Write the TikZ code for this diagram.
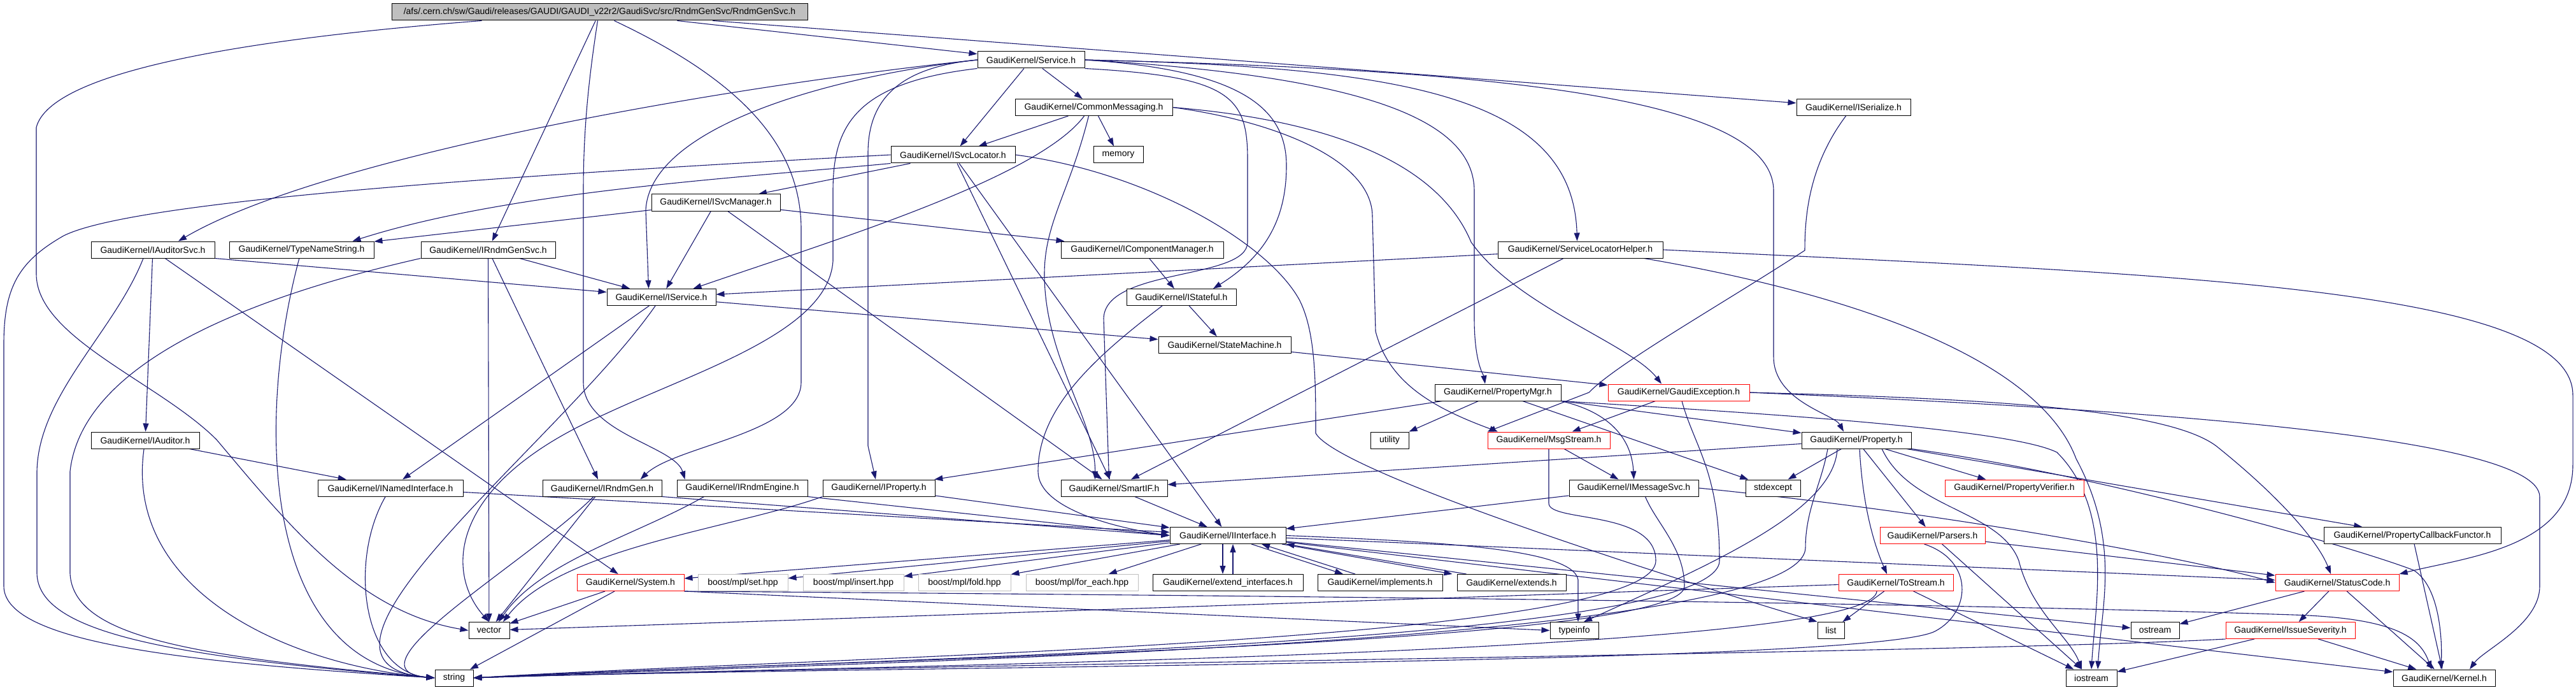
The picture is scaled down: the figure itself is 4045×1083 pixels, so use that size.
\documentclass[tikz,border=0pt]{standalone}
\usepackage{fontspec}
\setmainfont{Liberation Sans}
\usetikzlibrary{arrows.meta}

\definecolor{edgeblue}{HTML}{191970}
\definecolor{hdrgray}{HTML}{BFBFBF}
\pgfdeclarelayer{edges}
\pgfsetlayers{edges,main}

\begin{document}
\begin{tikzpicture}[
    x=1pt, y=1pt,                              % 1 unit = 1 px of the graph
    incl/.style={draw=black, fill=white, line width=1pt, minimum height=26pt,
      inner sep=0pt, font=\fontsize{14}{16}\selectfont},
    hdr/.style={incl, fill=hdrgray},
    trunc/.style={incl, draw=red},
    extl/.style={incl, draw=hdrgray},
    dep/.style={draw=edgeblue, line width=1.1pt, -{Triangle[length=13pt,width=9pt]}},
  ]
  \useasboundingbox (0,0) rectangle (4045,-1083);

  % ---------- header files (one rank per row) ----------
  \node[hdr, minimum width=653pt] (root) at (941.5,-19)
    {/afs/.cern.ch/sw/Gaudi/releases/GAUDI/GAUDI\_v22r2/GaudiSvc/src/RndmGenSvc/RndmGenSvc.h};
  \node[incl, minimum width=168pt] (svc) at (1619,-94) {GaudiKernel/Service.h};
  \node[incl, minimum width=247pt] (cmsg) at (1717.5,-168.5) {GaudiKernel/CommonMessaging.h};
  \node[incl, minimum width=179pt] (iser) at (2910.5,-168.5) {GaudiKernel/ISerialize.h};
  \node[incl, minimum width=195pt] (isvcloc) at (1496.5,-243) {GaudiKernel/ISvcLocator.h};
  \node[incl, minimum width=78pt] (memory) at (1756,-243) {memory};
  \node[incl, minimum width=202pt] (isvcmgr) at (1124,-318) {GaudiKernel/ISvcManager.h};
  \node[incl, minimum width=194pt] (iaudsvc) at (240,-392) {GaudiKernel/IAuditorSvc.h};
  \node[incl, minimum width=227pt] (tns) at (473.5,-392) {GaudiKernel/TypeNameString.h};
  \node[incl, minimum width=211pt] (irgsvc) at (766.5,-392) {GaudiKernel/IRndmGenSvc.h};
  \node[incl, minimum width=255pt] (icompmgr) at (1793.5,-392) {GaudiKernel/IComponentManager.h};
  \node[incl, minimum width=259pt] (slh) at (2481.5,-392) {GaudiKernel/ServiceLocatorHelper.h};
  \node[incl, minimum width=171pt] (iservice) at (1038.5,-466.5) {GaudiKernel/IService.h};
  \node[incl, minimum width=172pt] (istateful) at (1855,-466.5) {GaudiKernel/IStateful.h};
  \node[incl, minimum width=208pt] (statemach) at (1923,-541.5) {GaudiKernel/StateMachine.h};
  \node[incl, minimum width=198pt] (propmgr) at (2352,-616) {GaudiKernel/PropertyMgr.h};
  \node[trunc, minimum width=222pt] (gexc) at (2636,-616) {GaudiKernel/GaudiException.h};
  \node[incl, minimum width=170pt] (iauditor) at (228,-691) {GaudiKernel/IAuditor.h};
  \node[incl, minimum width=60pt] (utility) at (2182,-691) {utility};
  \node[trunc, minimum width=192pt] (msgstream) at (2432,-691) {GaudiKernel/MsgStream.h};
  \node[incl, minimum width=172pt] (property) at (2915,-691) {GaudiKernel/Property.h};
  \node[incl, minimum width=228pt] (inamed) at (613,-766) {GaudiKernel/INamedInterface.h};
  \node[incl, minimum width=187pt] (irndmgen) at (945.5,-766) {GaudiKernel/IRndmGen.h};
  \node[incl, minimum width=205pt] (irndmeng) at (1165.5,-766) {GaudiKernel/IRndmEngine.h};
  \node[incl, minimum width=176pt] (iproperty) at (1380,-766) {GaudiKernel/IProperty.h};
  \node[incl, minimum width=167pt] (smartif) at (1749.5,-766) {GaudiKernel/SmartIF.h};
  \node[incl, minimum width=203pt] (imsgsvc) at (2565.5,-766) {GaudiKernel/IMessageSvc.h};
  \node[incl, minimum width=86pt] (stdexcept) at (2784,-766) {stdexcept};
  \node[trunc, minimum width=218pt] (propverif) at (3163,-766) {GaudiKernel/PropertyVerifier.h};
  \node[incl, minimum width=182pt] (iinterface) at (1928,-840.5) {GaudiKernel/IInterface.h};
  \node[trunc, minimum width=165pt] (parsers) at (3034.5,-840.5) {GaudiKernel/Parsers.h};
  \node[incl, minimum width=278pt] (pcbf) at (3788,-840.5) {GaudiKernel/PropertyCallbackFunctor.h};
  \node[trunc, minimum width=168pt] (system) at (990,-914.5) {GaudiKernel/System.h};
  \node[extl, minimum width=141pt] (mplset) at (1166.5,-914.5) {boost/mpl/set.hpp};
  \node[extl, minimum width=158pt] (mplinsert) at (1340,-914.5) {boost/mpl/insert.hpp};
  \node[extl, minimum width=145pt] (mplfold) at (1514.5,-914.5) {boost/mpl/fold.hpp};
  \node[extl, minimum width=176pt] (mplforeach) at (1699,-914.5) {boost/mpl/for\_each.hpp};
  \node[incl, minimum width=236pt] (extif) at (1928,-914.5) {GaudiKernel/extend\_interfaces.h};
  \node[incl, minimum width=196pt] (implements) at (2167,-914.5) {GaudiKernel/implements.h};
  \node[incl, minimum width=171pt] (extends) at (2373.5,-914.5) {GaudiKernel/extends.h};
  \node[trunc, minimum width=180pt] (tostream) at (2977,-914.5) {GaudiKernel/ToStream.h};
  \node[trunc, minimum width=194pt] (statuscode) at (3670,-914.5) {GaudiKernel/StatusCode.h};
  \node[incl, minimum width=64pt] (vector) at (768,-989.5) {vector};
  \node[incl, minimum width=76pt] (typeinfo) at (2472,-989.5) {typeinfo};
  \node[incl, minimum width=42pt] (list) at (2875,-989.5) {list};
  \node[incl, minimum width=76pt] (ostream) at (3384,-989.5) {ostream};
  \node[trunc, minimum width=203pt] (issuesev) at (3596.5,-989.5) {GaudiKernel/IssueSeverity.h};
  \node[incl, minimum width=60pt] (string) at (713,-1064) {string};
  \node[incl, minimum width=80pt] (iostream) at (3284,-1064) {iostream};
  \node[incl, minimum width=160pt] (kernel) at (3838,-1064) {GaudiKernel/Kernel.h};

  \begin{pgfonlayer}{edges}
  % ---------- short include edges ----------
  \foreach \src/\dst in {%
    root/svc, root/iser, root/irgsvc,
    svc/cmsg, svc/isvcloc,
    cmsg/isvcloc, cmsg/memory,
    isvcloc/isvcmgr, isvcloc/iinterface, isvcloc/smartif,
    isvcmgr/tns, isvcmgr/icompmgr, isvcmgr/iservice, isvcmgr/smartif,
    iaudsvc/iauditor, iaudsvc/system,
    irgsvc/iservice, irgsvc/irndmgen, irgsvc/vector,
    icompmgr/istateful, slh/iservice, slh/smartif,
    iservice/inamed, iservice/statemach, istateful/statemach, statemach/gexc,
    propmgr/iproperty, propmgr/property, propmgr/utility, propmgr/stdexcept,
    gexc/msgstream, iauditor/inamed, msgstream/imsgsvc,
    property/smartif, property/stdexcept, property/propverif, property/parsers, property/pcbf,
    imsgsvc/iinterface, inamed/iinterface, iproperty/iinterface, smartif/iinterface,
    irndmgen/vector, system/vector, tostream/vector,
    iinterface/system, iinterface/mplset, iinterface/mplinsert, iinterface/mplfold,
    iinterface/mplforeach, iinterface/ostream, iinterface/kernel, iinterface/statuscode,
    system/string, parsers/statuscode, parsers/iostream, tostream/list, tostream/iostream,
    statuscode/ostream, statuscode/issuesev, statuscode/kernel,
    issuesev/iostream, issuesev/kernel, pcbf/kernel}
    \draw[dep] (\src) -- (\dst);
  \draw[dep] (iaudsvc.south east) -- ([yshift=8pt]iservice.west);
  \draw[dep] (irndmgen.south east) -- (iinterface.west);
  \draw[dep] (irndmeng.south east) -- (iinterface.west);
  \draw[dep] (system.south east) -- (typeinfo.west);

  % ---------- into string from the left ----------
  \foreach \src/\ang in {tns/255, iauditor/262, iservice/235, inamed/240, irndmgen/225}
    \draw[dep] (\src) to[out=\ang, in=175] (string.west);
  \draw[dep] ([xshift=-15pt]iaudsvc.south) .. controls (180,-520) and (60,-620) .. (58,-740)
    -- (58,-900) .. controls (60,-990) and (250,-1030) .. (string.west);
  \draw[dep] (irgsvc.south west) .. controls (420,-460) and (130,-560) .. (110,-740)
    -- (110,-900) .. controls (115,-1000) and (300,-1030) .. (string.west);
  \draw[dep] (isvcloc.west) .. controls (700,-280) and (200,-320) .. (100,-370)
    .. controls (30,-410) and (6,-450) .. (6,-540)
    -- (6,-920) .. controls (6,-1010) and (300,-1040) .. (string.west);

  % ---------- into string from the right (bundle along the bottom) ----------
  \draw[dep] (msgstream.south) -- (2432,-790) .. controls (2432,-820) and (2600,-800) .. (2600,-880)
    .. controls (2600,-1010) and (1300,-1030) .. (string.east);
  \draw[dep] ([xshift=5pt]gexc.south) .. controls (2660,-700) and (2700,-740) .. (2700,-880)
    .. controls (2700,-1015) and (1300,-1035) .. (string.east);
  \draw[dep] ([xshift=18pt]imsgsvc.south) .. controls (2600,-820) and (2645,-860) .. (2645,-920)
    .. controls (2645,-1015) and (1300,-1035) .. (string.east);
  \draw[dep] ([xshift=-45pt]property.south) .. controls (2860,-760) and (2835,-800) .. (2835,-860)
    .. controls (2830,-1015) and (1300,-1040) .. (string.east);
  \draw[dep] ([xshift=70pt]parsers.south west) .. controls (3100,-880) and (3095,-960) .. (3040,-990)
    .. controls (2950,-1045) and (1300,-1045) .. (string.east);
  \draw[dep] ([xshift=-30pt]tostream.south) .. controls (2940,-1030) and (1300,-1045) .. (string.east);
  \draw[dep] (issuesev.south west) .. controls (3100,-1025) and (1300,-1045) .. (string.east);

  % ---------- long routed edges ----------
  \draw[dep] ([xshift=142pt]root.south west) .. controls (400,-60) and (80,-110) .. (57,-200)
    -- (57,-430) .. controls (57,-530) and (250,-600) .. (340,-690)
    .. controls (450,-820) and (560,-960) .. (vector.west);
  \draw[dep] ([xshift=23pt]root.south) .. controls (1150,-120) and (1258,-220) .. (1258,-360)
    -- (1258,-600) .. controls (1258,-680) and (1060,-700) .. ([xshift=60pt]irndmgen.north);
  \draw[dep] ([xshift=-3pt]root.south) .. controls (925,-120) and (916,-200) .. (916,-300)
    -- (916,-600) .. controls (916,-680) and (1060,-700) .. ([xshift=-90pt]irndmeng.north);
  \draw[dep] (isvcloc.south west) .. controls (1150,-280) and (800,-300) .. ([xshift=80pt]tns.north);
  \draw[dep] (isvcloc.east) .. controls (1800,-270) and (1990,-380) .. (2040,-470)
    .. controls (2066,-520) and (2066,-600) .. (2066,-680)
    .. controls (2100,-740) and (2600,-900) .. (list.north west);
  \draw[dep] (svc.west) .. controls (1100,-140) and (500,-250) .. ([xshift=40pt]iaudsvc.north);
  \draw[dep] (svc.west) .. controls (1300,-120) and (1020,-200) .. (1014,-330)
    -- ([xshift=-20pt]iservice.north);
  \draw[dep] (svc.west) .. controls (1420,-105) and (1363,-150) .. (1363,-240)
    -- (1363,-700) -- ([xshift=-5pt]iproperty.north);
  \draw[dep] (svc.south west) .. controls (1340,-130) and (1308,-200) .. (1308,-300)
    -- (1308,-410) .. controls (1300,-520) and (1100,-580) .. (950,-650)
    .. controls (700,-760) and (700,-900) .. (vector.north);
  \draw[dep] (svc.south east) .. controls (1930,-120) and (1959,-150) .. (1959,-250)
    -- (1959,-380) .. controls (1959,-440) and (1735,-420) .. (1733,-500)
    -- ([xshift=-8pt]smartif.north);
  \draw[dep] (svc.east) .. controls (1950,-110) and (2020,-170) .. (2020,-260)
    .. controls (2020,-340) and (1990,-400) .. ([xshift=50pt]istateful.north);
  \draw[dep] (svc.east) .. controls (2200,-105) and (2470,-150) .. ([xshift=-5pt]slh.north);
  \draw[dep] (svc.east) .. controls (2150,-120) and (2315,-190) .. (2315,-300)
    -- (2315,-500) .. controls (2315,-570) and (2330,-590) .. ([xshift=-20pt]propmgr.north);
  \draw[dep] (svc.east) .. controls (2400,-110) and (2785,-160) .. (2785,-300)
    -- (2785,-560) .. controls (2785,-630) and (2880,-650) .. ([xshift=-20pt]property.north);
  \draw[dep] ([xshift=-15pt]cmsg.south) .. controls (1630,-280) and (1300,-380) .. ([xshift=50pt]iservice.north);
  \draw[dep] ([xshift=-8pt]cmsg.south) .. controls (1680,-300) and (1640,-350) .. (1640,-430)
    .. controls (1640,-560) and (1720,-660) .. ([xshift=-30pt]smartif.north);
  \draw[dep] (cmsg.east) .. controls (2000,-190) and (2155,-250) .. (2155,-340)
    -- (2160,-520) .. controls (2180,-600) and (2250,-640) .. ([xshift=-80pt]msgstream.north);
  \draw[dep] (cmsg.east) .. controls (2100,-190) and (2260,-260) .. (2310,-380)
    .. controls (2380,-480) and (2560,-540) .. ([xshift=-27pt]gexc.north);
  \draw[dep] ([xshift=-12pt]iser.south) .. controls (2840,-260) and (2834,-340) .. (2834,-393)
    .. controls (2700,-480) and (2540,-570) .. (2495,-616) -- (msgstream.north west);
  \draw[dep] (slh.east) .. controls (3400,-430) and (4040,-450) .. (4040,-620)
    -- (4040,-730) .. controls (4040,-860) and (3870,-875) .. (statuscode.north east);
  \draw[dep] ([xshift=100pt]slh.south) .. controls (2900,-460) and (3200,-560) .. (3260,-720)
    .. controls (3330,-850) and (3300,-950) .. ([xshift=10pt]iostream.north);
  \draw[dep] ([xshift=-30pt]istateful.south) .. controls (1720,-560) and (1630,-640) .. (1630,-740)
    .. controls (1630,-800) and (1760,-830) .. (iinterface.west);
  \draw[dep] (propmgr.south east) .. controls (2540,-650) and (2563,-700) .. (imsgsvc.north);
  \draw[dep] (propmgr.south east) .. controls (2700,-645) and (3150,-670) .. (3230,-710)
    .. controls (3320,-800) and (3290,-950) .. (iostream.north);
  \draw[dep] (gexc.east) .. controls (3100,-625) and (3400,-640) .. (3480,-700)
    .. controls (3580,-780) and (3640,-850) .. ([xshift=-10pt]statuscode.north);
  \draw[dep] (gexc.east) .. controls (3300,-640) and (3988,-680) .. (3988,-780)
    -- (3988,-920) .. controls (3988,-980) and (3900,-1020) .. ([xshift=40pt]kernel.north);
  \draw[dep] ([xshift=5pt]property.south) .. controls (2925,-800) and (2945,-860) .. ([xshift=-14pt]tostream.north);
  \draw[dep] (property.south east) .. controls (3300,-745) and (3700,-860) .. (3790,-895)
    .. controls (3830,-920) and (3835,-1000) .. ([xshift=-5pt]kernel.north);
  \draw[dep] ([xshift=40pt]property.south) .. controls (3000,-800) and (3140,-800) .. (3170,-880)
    .. controls (3190,-960) and (3250,-1000) .. ([xshift=-15pt]iostream.north);
  \draw[dep] ([xshift=-30pt]property.south) .. controls (2880,-800) and (2700,-880) .. ([xshift=15pt]typeinfo.north);
  \draw[dep] (imsgsvc.east) .. controls (3100,-810) and (3450,-880) .. (statuscode.west);
  \draw[dep] ([xshift=-60pt]irndmeng.south) .. controls (1000,-840) and (850,-880) .. ([xshift=15pt]vector.north);
  \draw[dep] (iproperty.south west) .. controls (1150,-830) and (880,-860) .. ([xshift=22pt]vector.north);
  \draw[dep] (iinterface.east) .. controls (2250,-850) and (2470,-860) .. (2478,-910)
    -- ([xshift=6pt]typeinfo.north);
  \draw[dep] (system.south east) .. controls (2000,-935) and (3000,-945) .. (3600,-965)
    .. controls (3760,-970) and (3800,-1000) .. ([xshift=-20pt]kernel.north);

  % ---------- IInterface <-> its helper headers ----------
  \draw[dep] ([xshift=-8pt]iinterface.south) -- ([xshift=-8pt]extif.north);
  \draw[dep] ([xshift=8pt]extif.north) -- ([xshift=8pt]iinterface.south);
  \draw[dep] ([xshift=37pt]iinterface.south) -- ([xshift=-58pt]implements.north);
  \draw[dep] ([xshift=-39pt]implements.north) -- ([xshift=53pt]iinterface.south);
  \draw[dep] ([xshift=85pt]iinterface.south) -- ([xshift=-93pt]extends.north);
  \draw[dep] ([xshift=-71pt]extends.north) -- (iinterface.south east);
  \end{pgfonlayer}

\end{tikzpicture}
\end{document}
